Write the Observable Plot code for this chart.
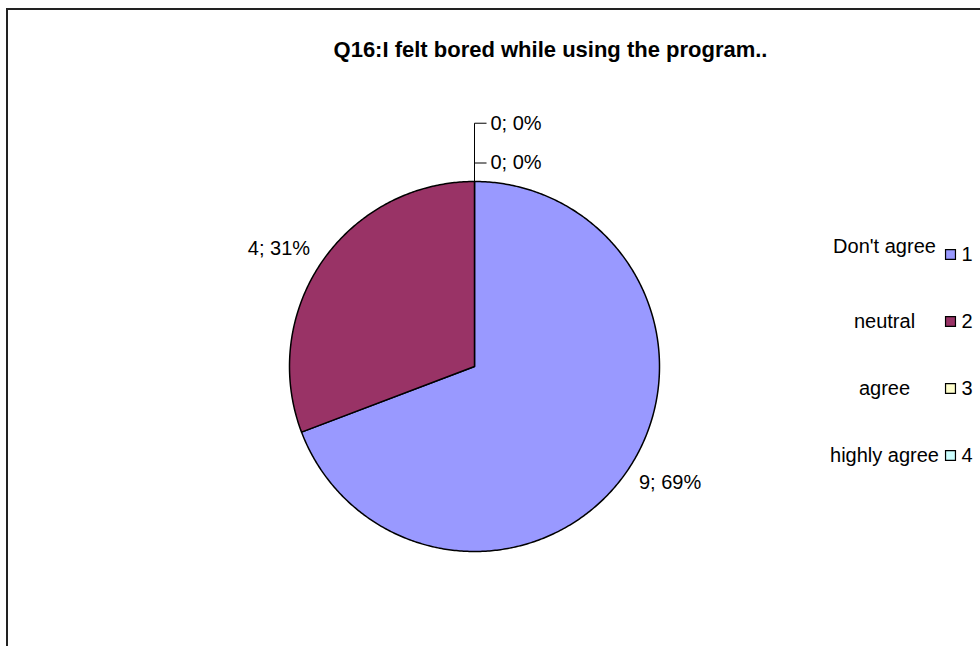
<!DOCTYPE html>
<html><head><meta charset="utf-8">
<script src="https://cdn.jsdelivr.net/npm/d3@7"></script>
<script src="https://cdn.jsdelivr.net/npm/@observablehq/plot@0.6"></script>
<style>
html,body{margin:0;padding:0;background:#fff;overflow:hidden;}
#wrap{position:relative;width:980px;height:646px;overflow:hidden;background:#fff;font-family:"Liberation Sans",Arial,sans-serif;}
#border{position:absolute;left:6px;top:8px;width:2000px;height:2000px;border-left:2px solid #222;border-top:2px solid #222;z-index:2;pointer-events:none;}
#main{position:absolute;left:0;top:0;}
#legend{position:absolute;left:820px;top:230px;z-index:1;}
</style></head><body>
<div id="wrap"><div id="main"></div><div id="legend"></div><div id="border"></div></div>
<script>
const title = "Q16:I felt bored while using the program..";
const categories = ["Don't agree", "neutral", "agree", "highly agree"];
const codes = ["1", "2", "3", "4"];
const values = [9, 4, 0, 0];
const colors = ["#9999FF", "#993366", "#FFFFCC", "#CCFFFF"];

const FONT = "'Liberation Sans', Arial, sans-serif";
const data = categories.map((c, i) => ({cat: c, code: codes[i], value: values[i]}));
const total = d3.sum(values);
const arcs = d3.pie().sort(null).value(d => d.value)(data);

// slice polygons in unit-circle coordinates (y up), angle 0 at 12 o'clock, clockwise
const pts = [];
arcs.forEach(a => {
  const span = a.endAngle - a.startAngle;
  if (span <= 0) return;
  pts.push({cat: a.data.cat, x: 0, y: 0});
  const n = Math.max(2, Math.ceil(span / 0.01));
  for (let k = 0; k <= n; k++) {
    const t = a.startAngle + span * k / n;
    pts.push({cat: a.data.cat, x: Math.sin(t), y: Math.cos(t)});
  }
  pts.push({cat: a.data.cat, x: 0, y: 0});
});

// data labels
const labels = [];
let zeroK = 0;
arcs.forEach(a => {
  const pct = Math.round(a.data.value / total * 100);
  const text = `${a.data.value}; ${pct}%`;
  if (a.data.value > 0) {
    const mid = (a.startAngle + a.endAngle) / 2;
    const r = 1.08;
    labels.push({text, x: Math.sin(mid) * r, y: Math.cos(mid) * r, side: Math.sin(mid) >= 0 ? "right" : "left", zero: false});
  } else {
    const r = 1.1 + 0.215 * zeroK++;
    const ang = a.endAngle;
    labels.push({text, x0: Math.sin(ang), y0: Math.cos(ang) * r, x: Math.sin(ang) + 0.086, y: Math.cos(ang) * r, zero: true});
  }
});
const zeroLabels = labels.filter(d => d.zero);
const leaderTop = d3.max(zeroLabels, d => d.y0);

const main = Plot.plot({
  width: 980, height: 646, margin: 0,
  style: {fontFamily: FONT, fontSize: "20px", background: "transparent", color: "black"},
  x: {domain: [-1, 1], range: [474 - 185, 474 + 185], axis: null},
  y: {domain: [-1, 1], range: [366 + 185, 366 - 185], axis: null},
  color: {domain: categories, range: colors},
  marks: [
    Plot.line(pts, {x: "x", y: "y", z: "cat", fill: "cat", stroke: "black", strokeWidth: 1.5, strokeLinejoin: "round", curve: "linear"}),
    Plot.link(zeroLabels.length ? [{x: 0, y1: 1, y2: leaderTop}] : [], {x1: "x", x2: "x", y1: "y1", y2: "y2", stroke: "black", strokeWidth: 1}),
    Plot.link(zeroLabels, {x1: "x0", x2: d => d.x0 + 0.065, y1: "y0", y2: "y0", stroke: "black", strokeWidth: 1}),
    Plot.text(zeroLabels, {x: "x", y: "y", text: "text", textAnchor: "start", fill: "black", fontSize: 20}),
    Plot.text(labels.filter(d => !d.zero && d.side === "right"), {x: "x", y: "y", text: "text", textAnchor: "start", dy: 3, fill: "black", fontSize: 20}),
    Plot.text(labels.filter(d => !d.zero && d.side === "left"), {x: "x", y: "y", text: "text", textAnchor: "end", dy: -4, fill: "black", fontSize: 20}),
    Plot.text([title], {frameAnchor: "top", dx: 60, dy: 49, lineAnchor: "middle", text: d => d, fontSize: 22, fontWeight: "bold", fill: "black"})
  ]
});
document.getElementById("main").appendChild(main);

const legend = Plot.plot({
  width: 160, height: 260, margin: 0,
  style: {fontFamily: FONT, fontSize: "20px", background: "transparent", color: "black"},
  y: {type: "point", domain: categories, range: [23, 225], padding: 0, axis: null},
  color: {domain: categories, range: colors},
  marks: [
    Plot.text(data, {filter: (d, i) => i === 0, y: "cat", text: "cat", frameAnchor: "left", dx: 64, dy: -8, textAnchor: "middle", fill: "black", fontSize: 20}),
    Plot.text(data, {filter: (d, i) => i > 0, y: "cat", text: "cat", frameAnchor: "left", dx: 64, textAnchor: "middle", fill: "black", fontSize: 20}),
    Plot.dot(data, {y: "cat", frameAnchor: "left", dx: 130, symbol: "square", r: 5.6, fill: "cat", stroke: "black", strokeWidth: 1.2}),
    Plot.text(data, {y: "cat", text: "code", frameAnchor: "left", dx: 141, textAnchor: "start", fill: "black", fontSize: 20})
  ]
});
document.getElementById("legend").appendChild(legend);
</script>
</body></html>
